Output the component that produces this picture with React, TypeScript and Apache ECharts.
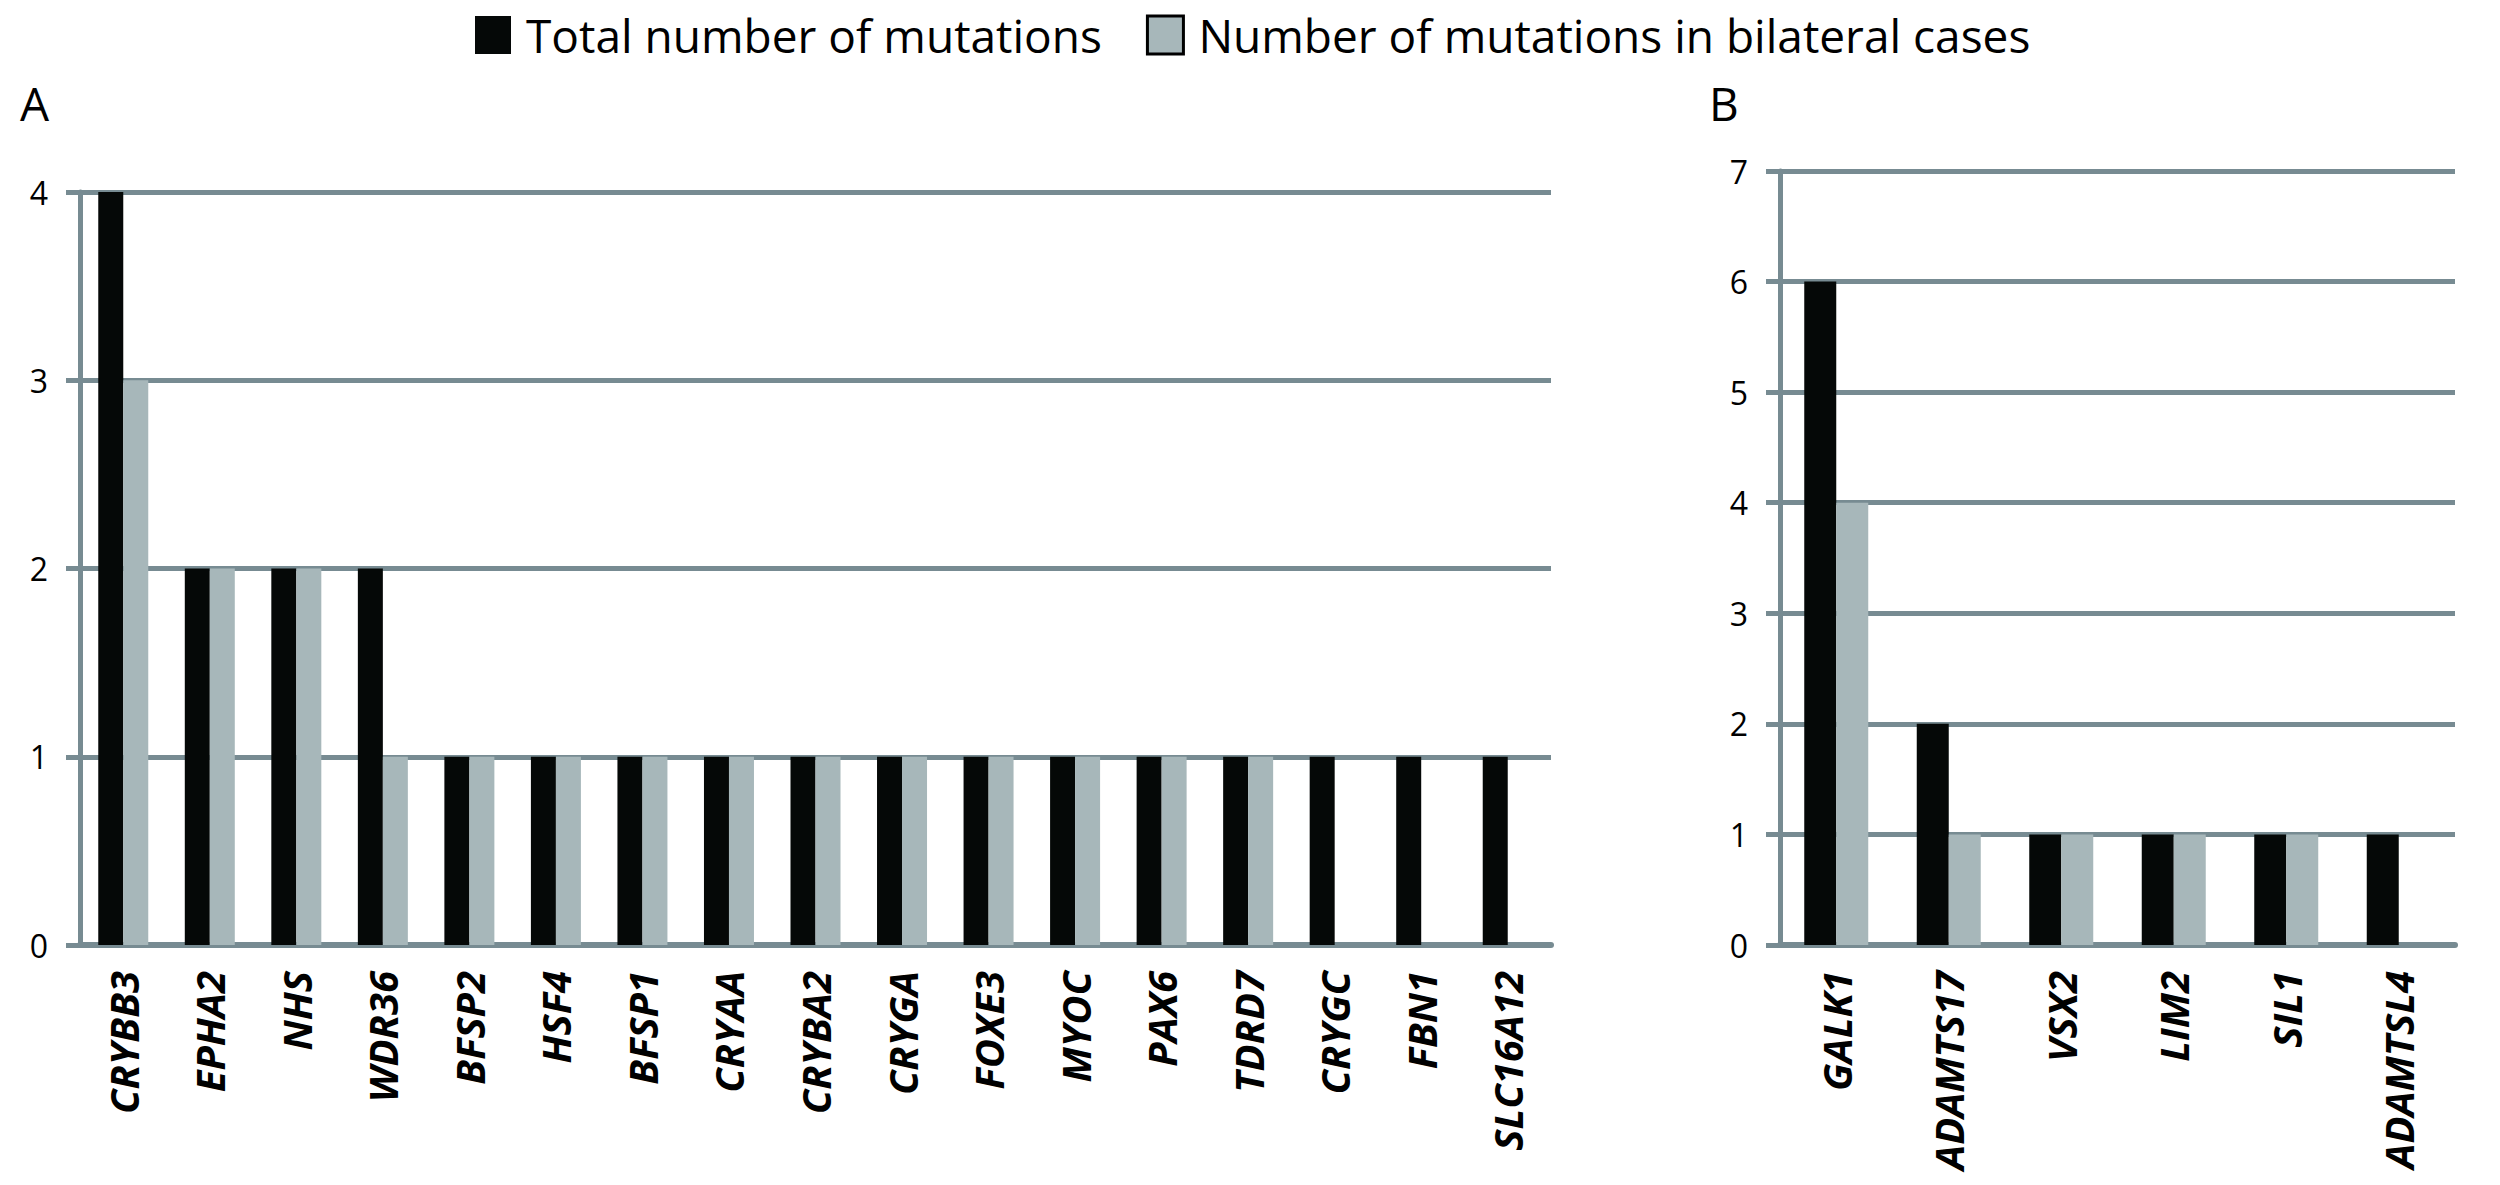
import React, { useEffect, useRef } from "react";
import * as echarts from "echarts";

const genesA = ["CRYBB3", "EPHA2", "NHS", "WDR36", "BFSP2", "HSF4", "BFSP1", "CRYAA", "CRYBA2", "CRYGA", "FOXE3", "MYOC", "PAX6", "TDRD7", "CRYGC", "FBN1", "SLC16A12"];
const totalA = [4, 2, 2, 2, 1, 1, 1, 1, 1, 1, 1, 1, 1, 1, 1, 1, 1];
const bilateralA = [3, 2, 2, 1, 1, 1, 1, 1, 1, 1, 1, 1, 1, 1, 0, 0, 0];

const genesB = ["GALK1", "ADAMTS17", "VSX2", "LIM2", "SIL1", "ADAMTSL4"];
const totalB = [6, 2, 1, 1, 1, 1];
const bilateralB = [4, 1, 1, 1, 1, 0];

const ticksA = { min: 0, max: 4, interval: 1 };
const ticksB = { min: 0, max: 7, interval: 1 };

const SERIES_TOTAL = "Total number of mutations";
const SERIES_BILAT = "Number of mutations in bilateral cases";

const GRID_COLOR = "#778B92";
const BLACK = "#050807";
const GRAY = "#A7B7BA";
const FONT = "Open Sans";

export default function App() {
  const ref = useRef<HTMLDivElement>(null);

  useEffect(() => {
    if (!ref.current) return;
    const chart = echarts.init(ref.current, null, { renderer: "svg" });

    const yAxisCommon = (t: { min: number; max: number; interval: number }, idx: number) => ({
      type: "value",
      gridIndex: idx,
      min: t.min,
      max: t.max,
      interval: t.interval,
      axisLine: { show: true, lineStyle: { color: GRID_COLOR, width: 5 } },
      axisTick: { show: true, length: 14, lineStyle: { color: GRID_COLOR, width: 5 } },
      splitLine: { show: true, lineStyle: { color: GRID_COLOR, width: 5 } },
      axisLabel: { color: "#000", fontSize: 32, fontFamily: FONT, margin: 32 },
    });

    const xAxisCommon = (data: string[], idx: number) => ({
      type: "category",
      gridIndex: idx,
      data,
      axisLine: { show: true, lineStyle: { color: GRID_COLOR, width: 6 } },
      axisTick: { show: false },
      splitLine: { show: false },
      axisLabel: {
        interval: 0,
        rotate: 90,
        color: "#000",
        fontSize: 40,
        fontStyle: "italic",
        fontWeight: "bold",
        fontFamily: FONT,
        margin: 26,
      },
    });

    chart.setOption({
      animation: false,
      backgroundColor: "#ffffff",
      legend: {
        left: 470,
        top: 6,
        itemWidth: 36,
        itemHeight: 38,
        itemGap: 44,
        icon: "rect",
        data: [
          { name: SERIES_TOTAL, itemStyle: { color: BLACK } },
          { name: SERIES_BILAT, itemStyle: { color: GRAY, borderColor: "#000", borderWidth: 3 } },
        ],
        textStyle: { color: "#000", fontSize: 46, lineHeight: 48, fontFamily: FONT, padding: [0, 0, 0, 10] },
      },
      graphic: [
        { type: "text", left: 20, top: 80, style: { text: "A", fontSize: 46, fontFamily: FONT, fill: "#000" } },
        { type: "text", left: 1709, top: 80, style: { text: "B", fontSize: 46, fontFamily: FONT, fill: "#000" } },
      ],
      grid: [
        { left: 80, top: 192, width: 1471, height: 753 },
        { left: 1780, top: 171, width: 675, height: 774 },
      ],
      xAxis: [xAxisCommon(genesA, 0), xAxisCommon(genesB, 1)],
      yAxis: [yAxisCommon(ticksA, 0), yAxisCommon(ticksB, 1)],
      series: [
        { name: SERIES_TOTAL, type: "bar", xAxisIndex: 0, yAxisIndex: 0, data: totalA, barWidth: 25, barGap: "0%", itemStyle: { color: BLACK } },
        { name: SERIES_BILAT, type: "bar", xAxisIndex: 0, yAxisIndex: 0, data: bilateralA, barWidth: 25, barGap: "0%", itemStyle: { color: GRAY } },
        { name: SERIES_TOTAL, type: "bar", xAxisIndex: 1, yAxisIndex: 1, data: totalB, barWidth: 32, barGap: "0%", itemStyle: { color: BLACK } },
        { name: SERIES_BILAT, type: "bar", xAxisIndex: 1, yAxisIndex: 1, data: bilateralB, barWidth: 32, barGap: "0%", itemStyle: { color: GRAY } },
      ],
    });

    return () => chart.dispose();
  }, []);

  return (
    <div
      ref={ref}
      style={{ position: "fixed", left: 0, top: 0, width: 2500, height: 1185, background: "#fff" }}
    />
  );
}
